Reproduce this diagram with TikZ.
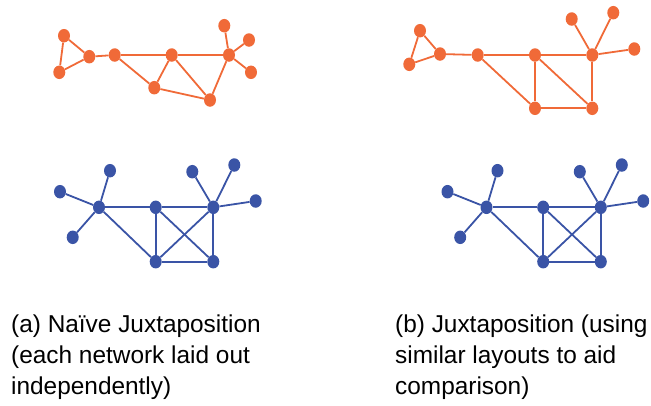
\documentclass[tikz,border=0pt]{standalone}
\usepackage{fontspec}
\setmainfont{Liberation Sans}
\usepackage{xcolor}
\usetikzlibrary{shapes.geometric}
\definecolor{netorange}{RGB}{240,106,56}
\definecolor{netblue}{RGB}{58,84,166}

\begin{document}
\begin{tikzpicture}[x=1pt, y=-1pt,
    vtx/.style={ellipse, fill=#1, inner sep=0pt, minimum width=12pt, minimum height=13.5pt},
    lnk/.style={draw=#1, line width=1.8pt},
    caption/.style={anchor=north west, align=left, inner sep=0pt, font=\fontsize{24.4}{31}\selectfont}]
    \useasboundingbox (0,0) rectangle (651,405);
    % 上排：橙色网络，左右两种布局
    \foreach \n/\x/\y in {a1/64/35.7, a2/59.3/72.3, a3/89.3/56.7, a4/114.7/55, a5/171.7/55,
        a6/154.3/87.7, a7/210/100, a8/229/55, a9/224.3/25.7, a10/249/40, a11/251/72.3,
        b1/420/30.7, b2/409.3/64.3, b3/440/54, b4/477.7/55, b5/535/55, b6/535/108.3,
        b7/592.3/108.3, b8/592.3/55, b9/571.7/19, b10/613.3/12.7, b11/634.3/49}
        \node[vtx=netorange] (\n) at (\x, \y) {};
    \foreach \g in {a, b}
        \foreach \i/\j in {1/2, 1/3, 2/3, 3/4, 4/5, 5/8, 4/6, 5/6, 5/7, 6/7, 7/8, 8/9, 8/10, 8/11}
            \draw[lnk=netorange] (\g\i) -- (\g\j);
    % 下排：蓝色网络，右边是左边平移
    \foreach \g/\s in {c/0, d/387.5} {
        \foreach \i/\x/\y in {1/60/191.7, 2/72.7/237.3, 3/110/170.7, 4/99/207.3, 5/155.7/207.3,
            6/155.7/261.7, 7/213.3/261.7, 8/213.3/207.3, 9/192.3/171.7, 10/234.3/165, 11/255.7/201}
            \node[vtx=netblue] (\g\i) at (\x+\s, \y) {};
        \foreach \i/\j in {4/1, 4/2, 4/3, 4/5, 5/8, 4/6, 5/6, 5/7, 6/8, 6/7, 7/8, 8/9, 8/10, 8/11}
            \draw[lnk=netblue] (\g\i) -- (\g\j);
    }
    \node[caption] (capa) at (11, 314.5) {(a) Naïve Juxtaposition\\(each network laid out\\independently)};
    \node[caption] (capb) at (395, 314.5) {(b) Juxtaposition (using\\similar layouts to aid\\comparison)};
\end{tikzpicture}
\end{document}
